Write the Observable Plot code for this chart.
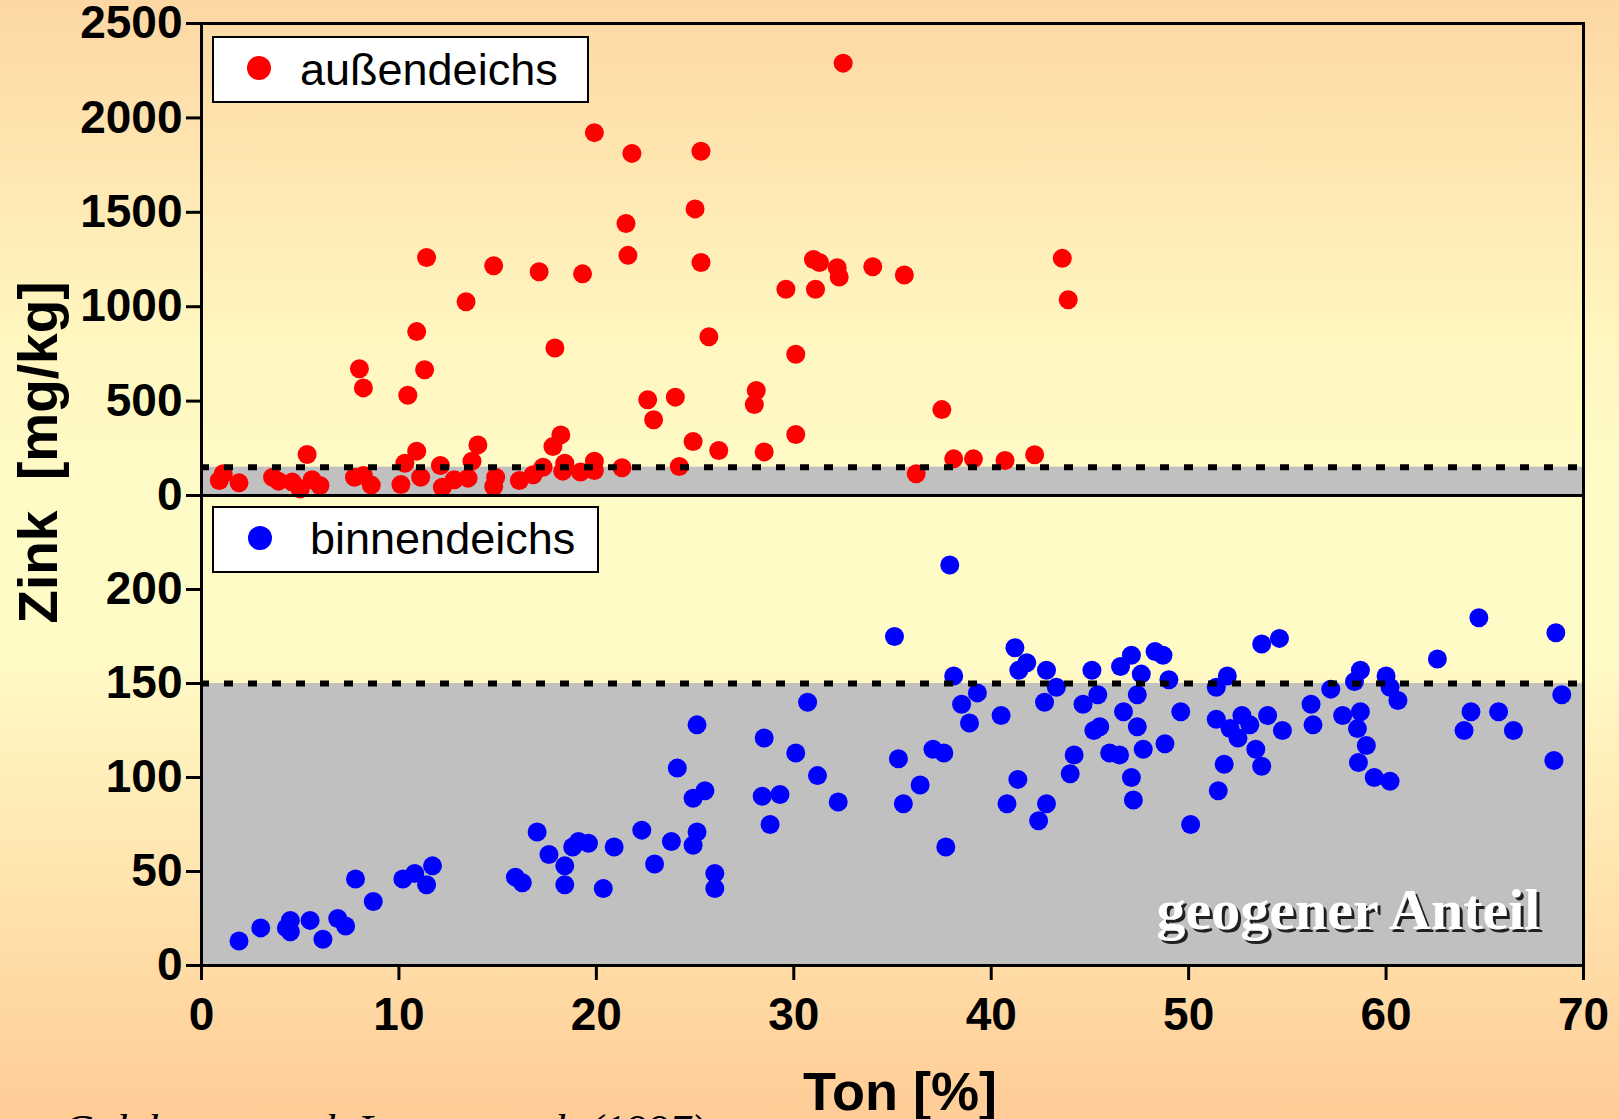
<!DOCTYPE html>
<html><head><meta charset="utf-8">
<script src="https://cdn.jsdelivr.net/npm/d3@7"></script>
<script src="https://cdn.jsdelivr.net/npm/@observablehq/plot@0.6"></script>
<style>
html,body{margin:0;padding:0;}
body{width:1619px;height:1119px;overflow:hidden;position:relative;
 background:linear-gradient(to bottom,#FDD7A3 0%,#FFF6C0 30%,#FFFBC7 45%,#FFFBC7 58%,#FFCC96 100%);
 font-family:"Liberation Sans",Arial,sans-serif;color:#000;}
#top,#bottom{position:absolute;left:0;top:0;}
.box{position:absolute;background:#fff;border:2px solid #000;box-sizing:border-box;}
.ldot{position:absolute;width:24px;height:24px;border-radius:50%;}
.ltxt{position:absolute;font-size:45px;line-height:45px;white-space:nowrap;}
#ytitle{position:absolute;left:-211.6px;top:424.5px;width:500px;height:55px;line-height:55px;font-size:55px;font-weight:bold;text-align:center;transform:rotate(-90deg);white-space:pre;}
#xtitle{position:absolute;left:600px;top:1064px;width:600px;height:54px;line-height:54px;font-size:54px;font-weight:bold;text-align:center;white-space:pre;}
#caption{position:absolute;left:62px;top:1109px;font-family:"Liberation Serif","Times New Roman",serif;font-style:italic;font-size:44px;line-height:44px;white-space:nowrap;}
</style></head><body>
<div id="top"></div><div id="bottom"></div>
<div class="box" style="left:212px;top:36px;width:377px;height:67px;"></div>
<div class="ldot" style="left:247px;top:56px;background:#ff0000;"></div>
<div class="ltxt" style="left:300px;top:46.6px;">außendeichs</div>
<div class="box" style="left:212px;top:506px;width:387px;height:67px;"></div>
<div class="ldot" style="left:248px;top:526px;background:#0000ff;"></div>
<div class="ltxt" style="left:310px;top:516.4px;">binnendeichs</div>
<div id="ytitle">Zink  [mg/kg]</div>
<div id="xtitle">Ton [%]</div>
<div id="caption">Galehouse nach Lorenz et al. (1997)</div>
<script>
// ---- data ----
const xDomain = [0, 70];
const xTicks = [0, 10, 20, 30, 40, 50, 60, 70];
const topTicks = [0, 500, 1000, 1500, 2000, 2500];
const bottomTicks = [0, 50, 100, 150, 200];
const topDomain = [0, 2500];
const bottomDomain = [0, 250];
const threshold = 150;
const geoLabel = "geogener Anteil";

// außendeichs: Ton [%] and Zink [mg/kg]
const aussenTon = [0.9,1.1,1.9,3.6,3.9,4.6,5.0,5.6,6.0,5.35,7.75,8.2,8.6,10.1,10.3,10.9,11.1,12.1,12.2,12.8,13.5,13.7,14.0,14.8,14.9,16.1,16.8,17.3,17.8,18.2,18.3,18.4,19.2,19.9,19.9,21.3,24.2,24.9,26.2,
 8.2,8.0,10.45,10.9,11.3,11.4,13.4,14.8,17.1,17.9,19.3,19.9,21.5,21.6,21.8,22.6,22.9,24.0,25.0,25.3,25.3,25.7,
 28.1,28.0,28.5,29.6,30.1,30.1,31.0,31.3,31.1,32.2,32.3,32.5,34.0,35.6,36.2,37.5,38.1,39.1,40.7,42.2,43.6,43.9];
const aussenZink = [79,115,67,97,76,71,35,83,53,217,97,106,55,58,171,235,97,159,44,83,92,182,268,48,97,79,110,150,260,321,129,171,124,132,182,147,154,286,238,
 570,671,531,868,666,1261,1026,1217,1185,781,1174,1922,1441,1272,1812,507,401,521,1518,1823,1234,841,
 556,482,231,1092,748,323,1250,1234,1092,1206,1157,2290,1212,1168,115,455,194,194,185,216,1256,1037];

// binnendeichs
const binnenTon = [1.9,3.0,4.5,4.3,4.5,5.5,6.15,6.9,7.3,7.8,8.7,10.2,10.8,11.4,11.7,15.9,16.25,17.0,17.6,18.4,18.4,18.8,19.1,19.6,20.35,20.9,22.3,22.95,23.8,24.1,25.1,24.9,25.5,25.1,24.9,26.0,26.0,
 28.5,28.4,29.3,28.8,30.1,30.7,31.2,32.25,35.1,35.3,35.55,36.4,37.05,37.6,37.7,37.9,
 38.1,38.5,38.9,39.3,40.5,40.8,41.2,41.35,41.4,41.8,42.4,42.7,42.8,42.8,43.3,
 44.0,44.2,44.65,45.1,45.2,45.4,45.5,46.0,46.5,46.55,46.7,47.1,47.1,47.2,47.4,47.4,47.6,47.7,48.3,48.7,48.8,49.0,49.6,50.1,
 51.4,51.4,51.5,51.8,51.96,52.1,52.5,52.7,53.1,53.4,53.7,53.7,54.0,54.6,54.75,56.2,56.3,57.2,57.8,58.4,58.7,58.7,58.55,59.0,58.6,59.4,60.2,60.0,60.2,60.6,62.6,63.95,64.3,64.7,65.7,66.45,68.6,68.9,68.5];
const binnenZink = [13,20,24,20,18,24,14,25,21,46,34,46,49,43,53,47,44,71,59,53,43,63,66,65,41,63,72,54,66,105,128,89,93,71,64,49,41,
 121,90,91,75,113,140,101,87,175,110,86,96,115,113,63,213,
 154,139,129,145,133,86,169,99,157,161,77,140,157,86,148,
 102,112,139,157,125,144,127,113,112,159,135,165,100,88,144,127,155,115,167,165,118,152,135,75,
 148,131,93,107,154,126,121,133,128,115,106,171,133,174,125,139,128,147,133,151,157,135,126,117,108,100,98,154,148,141,163,125,135,185,135,125,177,144,109];

const aussen = aussenTon.map((t, i) => ({ton: t, zink: aussenZink[i]}));
const binnen = binnenTon.map((t, i) => ({ton: t, zink: binnenZink[i]}));

// ---- layout ----
const W = 1619, H = 1119;
const fontFamily = "Liberation Sans, Arial, sans-serif";
const axisStyle = {tickSize: 15, strokeWidth: 3, fontSize: 46, fontWeight: "bold", label: null, tickFormat: d => String(d)};
const dotted = {stroke: "#000", strokeWidth: 6, strokeDasharray: "9,15", strokeDashoffset: 1};

const topPlot = Plot.plot({
  width: W, height: H,
  marginLeft: 201, marginRight: 36, marginTop: 23, marginBottom: H - 495,
  x: {domain: xDomain, axis: null},
  y: {domain: topDomain},
  style: {background: "transparent", overflow: "visible", fontFamily, fontSize: "46px", fontWeight: "bold", color: "#000"},
  marks: [
    Plot.rect([threshold], {x1: () => xDomain[0], x2: () => xDomain[1], y1: () => 0, y2: d => d, fill: "#c0c0c0"}),
    Plot.dot(aussen, {x: "ton", y: "zink", r: 9.5, fill: "#ff0000", stroke: "none"}),
    Plot.ruleY([threshold], dotted),
    Plot.frame({stroke: "#000", strokeWidth: 3}),
    Plot.axisY({...axisStyle, ticks: topTicks, tickPadding: 4})
  ]
});
document.getElementById("top").append(topPlot);

const bottomPlot = Plot.plot({
  width: W, height: H,
  marginLeft: 201, marginRight: 36, marginTop: 495, marginBottom: H - 965,
  x: {domain: xDomain},
  y: {domain: bottomDomain},
  style: {background: "transparent", overflow: "visible", fontFamily, fontSize: "46px", fontWeight: "bold", color: "#000"},
  marks: [
    Plot.rect([threshold], {x1: () => xDomain[0], x2: () => xDomain[1], y1: () => 0, y2: d => d, fill: "#c0c0c0"}),
    Plot.dot(binnen, {x: "ton", y: "zink", r: 9.5, fill: "#0000ff", stroke: "none"}),
    Plot.ruleY([threshold], dotted),
    Plot.text([geoLabel], {text: d => d, frameAnchor: "bottom-right", textAnchor: "end", lineAnchor: "bottom", dx: -40, dy: -34,
      fontSize: 58, fontWeight: "bold", fontFamily: "Liberation Serif, Times New Roman, serif", fill: "#202020"}),
    Plot.text([geoLabel], {text: d => d, frameAnchor: "bottom-right", textAnchor: "end", lineAnchor: "bottom", dx: -43, dy: -37,
      fontSize: 58, fontWeight: "bold", fontFamily: "Liberation Serif, Times New Roman, serif", fill: "#ffffff"}),
    Plot.frame({stroke: "#000", strokeWidth: 3}),
    Plot.axisY({...axisStyle, ticks: bottomTicks, tickPadding: 4}),
    Plot.axisX({...axisStyle, ticks: xTicks, tickPadding: 17})
  ]
});
document.getElementById("bottom").append(bottomPlot);
</script>
</body></html>
